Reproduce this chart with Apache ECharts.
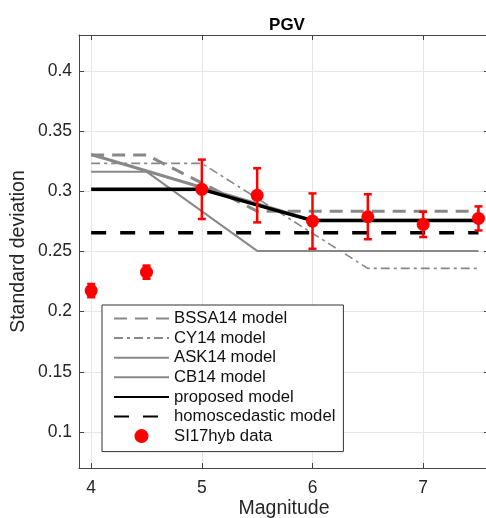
<!DOCTYPE html>
<html>
<head>
<meta charset="utf-8">
<script src="https://cdn.jsdelivr.net/npm/echarts@6/dist/echarts.min.js"></script>
<style>
  html, body { margin: 0; padding: 0; background: #fff; }
  #chart { width: 486px; height: 518px; }
</style>
</head>
<body>
<div id="chart"></div>
<script>
// SI17hyb data points
const magnitudes = [4, 4.5, 5, 5.5, 6, 6.5, 7, 7.5];
const si17Mean = [0.2175, 0.2328, 0.3017, 0.2967, 0.2753, 0.2789, 0.2725, 0.2775];
const si17Err = [0.0055, 0.0055, 0.0247, 0.0225, 0.023, 0.0187, 0.0105, 0.010];

// model curves (magnitude breakpoints and standard deviation)
const bssaM = [4, 4.5, 5.5, 7.5];
const bssaSd = [0.3303, 0.3303, 0.2835, 0.2835];
const cyM = [4, 5, 6.5, 7.5];
const cySd = [0.3233, 0.3233, 0.236, 0.236];
const askM = [4, 6, 7.5];
const askSd = [0.3306, 0.276, 0.276];
const cbM = [4, 4.5, 5.5, 7.5];
const cbSd = [0.3164, 0.3164, 0.2505, 0.2505];
const proposedM = [4, 5, 6, 7.5];
const proposedSd = [0.3017, 0.3017, 0.2757, 0.2757];
const homoM = [4, 7.5];
const homoSd = [0.2655, 0.2655];

const xTicks = [4, 5, 6, 7];
const yTicks = [0.1, 0.15, 0.2, 0.25, 0.3, 0.35, 0.4];

const GRAY = '#888888';
const FONT = 'Liberation Sans';
const pairs = (xs, ys) => xs.map((x, i) => [x, ys[i]]);

function lineSeries(name, xs, ys, width, type, color, z) {
  return {
    name, type: 'line', data: pairs(xs, ys), symbol: 'none', z,
    lineStyle: { color, width, type }, itemStyle: { color },
  };
}

const chart = echarts.init(document.getElementById('chart'));
const axisCommon = {
  axisLine: { lineStyle: { color: '#444', width: 1 } },
  axisTick: { inside: true, length: 5, lineStyle: { color: '#444' } },
};
const lineNames = ['BSSA14 model', 'CY14 model', 'ASK14 model', 'CB14 model',
  'proposed model', 'homoscedastic model'];

chart.setOption({
  animation: false,
  title: {
    text: 'PGV', left: 282, top: 12, textAlign: 'center',
    textStyle: { fontFamily: FONT, fontSize: 17, fontWeight: 'bold', color: '#000' },
  },
  grid: { left: 79, right: -3, top: 35, bottom: 50, outerBoundsMode: 'none' },
  legend: {
    orient: 'vertical', left: 102, top: 305,
    data: [...lineNames.map(name => ({ name, itemStyle: { opacity: 0 } })), 'SI17hyb data'],
    itemWidth: 55, itemHeight: 14, itemGap: 2.6,
    padding: [5, 8, 7, 11],
    borderColor: '#333', borderWidth: 1, backgroundColor: '#fff',
    textStyle: { fontFamily: FONT, fontSize: 16.7, color: '#111', lineHeight: 16 },
  },
  xAxis: [{
    type: 'value', min: 3.89, max: 7.595, position: 'bottom',
    name: 'Magnitude', nameLocation: 'middle', nameGap: 31, nameMoveOverlap: false,
    nameTextStyle: { fontFamily: FONT, fontSize: 19.5, color: '#262626' },
    ...axisCommon,
    axisTick: { ...axisCommon.axisTick, customValues: xTicks },
    axisLabel: { customValues: xTicks, margin: 11, fontFamily: FONT, fontSize: 17.5, color: '#262626' },
    splitLine: { show: true, lineStyle: { color: '#e6e6e6' } },
  }, {
    type: 'value', min: 3.89, max: 7.595, position: 'top',
    ...axisCommon,
    axisTick: { ...axisCommon.axisTick, customValues: xTicks },
    axisLabel: { show: false },
    splitLine: { show: false },
  }],
  yAxis: [{
    type: 'value', min: 0.07, max: 0.43, position: 'left',
    name: 'Standard deviation', nameLocation: 'middle', nameGap: 50, nameMoveOverlap: false,
    nameTextStyle: { fontFamily: FONT, fontSize: 19.5, color: '#262626' },
    ...axisCommon,
    axisTick: { ...axisCommon.axisTick, customValues: yTicks },
    axisLabel: { customValues: yTicks, margin: 7, fontFamily: FONT, fontSize: 17.5, color: '#262626' },
    splitLine: { show: true, lineStyle: { color: '#e6e6e6' } },
  }, {
    type: 'value', min: 0.07, max: 0.43, position: 'right',
    ...axisCommon,
    axisTick: { ...axisCommon.axisTick, customValues: yTicks },
    axisLabel: { show: false },
    splitLine: { show: false },
  }],
  series: [
    lineSeries('BSSA14 model', bssaM, bssaSd, 3, [13, 8], GRAY, 3),
    lineSeries('CY14 model', cyM, cySd, 1.6, [9, 4, 3, 4], GRAY, 3),
    lineSeries('ASK14 model', askM, askSd, 3, 'solid', GRAY, 2),
    lineSeries('CB14 model', cbM, cbSd, 2, 'solid', GRAY, 2),
    lineSeries('proposed model', proposedM, proposedSd, 3.5, 'solid', '#000', 4),
    lineSeries('homoscedastic model', homoM, homoSd, 3.5, [15, 14], '#000', 4),
    {
      name: 'SI17hyb errors', type: 'custom', z: 5,
      data: magnitudes.map((m, i) => [m, si17Mean[i] - si17Err[i], si17Mean[i] + si17Err[i]]),
      renderItem: (params, api) => {
        const lo = api.coord([api.value(0), api.value(1)]);
        const hi = api.coord([api.value(0), api.value(2)]);
        const cap = 4;
        const style = { stroke: '#ff0000', lineWidth: 2.5 };
        return {
          type: 'group',
          children: [
            { type: 'line', shape: { x1: lo[0], y1: lo[1], x2: hi[0], y2: hi[1] }, style },
            { type: 'line', shape: { x1: lo[0] - cap, y1: lo[1], x2: lo[0] + cap, y2: lo[1] }, style },
            { type: 'line', shape: { x1: hi[0] - cap, y1: hi[1], x2: hi[0] + cap, y2: hi[1] }, style },
          ],
        };
      },
    },
    {
      name: 'SI17hyb data', type: 'scatter', z: 6,
      data: pairs(magnitudes, si17Mean),
      symbol: 'circle', symbolSize: 13,
      itemStyle: { color: '#ff0000', opacity: 1 },
    },
  ],
});
</script>
</body>
</html>
